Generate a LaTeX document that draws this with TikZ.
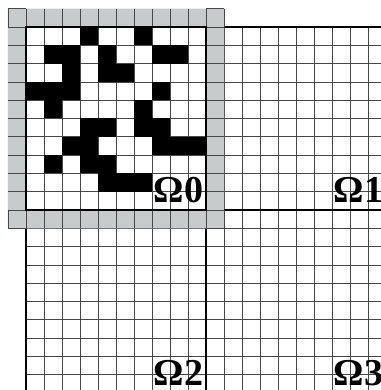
\documentclass[tikz,border=0pt]{standalone}
\usepackage{fontspec}
\setmainfont{Liberation Serif}
\definecolor{halo}{RGB}{200,203,204}
\tikzset{
  gridline/.style={draw=black!72,line width=0.75pt},
  thickline/.style={draw=black,line width=2pt},
  blackcell/.style={fill=black},
  domlabel/.style={anchor=base east,inner sep=0pt,font=\fontsize{38}{38}\selectfont\bfseries}
}
\begin{document}
\begin{tikzpicture}[x=18pt,y=-18.3pt]
\useasboundingbox (-1.4444,-1.4754) rectangle (19.6667,19.836);
% thin grid of the whole domain
\foreach \i in {0,...,20} {
  \draw[gridline] (\i,0) -- (\i,20);
  \draw[gridline] (0,\i) -- (20,\i);
}
% subdomain boundaries
\draw[thickline] (0,0) rectangle (20,20);
\draw[thickline] (10,0) -- (10,20);
\draw[thickline] (0,10) -- (20,10);
% halo ring around Omega0
\fill[halo,even odd rule] (-1,-1) rectangle (11,11) (0,0) rectangle (10,10);
\foreach \i in {-1,...,11} {
  \draw[gridline] (\i,-1) -- (\i,0);
  \draw[gridline] (\i,10) -- (\i,11);
  \draw[gridline] (-1,\i) -- (0,\i);
  \draw[gridline] (10,\i) -- (11,\i);
}
% black cells in Omega0 (column,row)
\foreach \c/\r in {3/0,6/0,
  1/1,2/1,4/1,7/1,8/1,
  2/2,4/2,5/2,
  0/3,1/3,2/3,7/3,
  1/4,6/4,
  3/5,4/5,6/5,7/5,
  2/6,3/6,7/6,8/6,9/6,
  1/7,3/7,4/7,
  4/8,5/8,6/8} {
  \fill[blackcell] (\c,\r) rectangle ++(1,1);
}
\draw[thickline] (0,0) rectangle (10,10);
% labels
\node[domlabel] (o0) at (9.85,9.6) {Ω0};
\node[domlabel] (o1) at (19.85,9.6) {Ω1};
\node[domlabel] (o2) at (9.85,19.6) {Ω2};
\node[domlabel] (o3) at (19.85,19.6) {Ω3};
\end{tikzpicture}
\end{document}
